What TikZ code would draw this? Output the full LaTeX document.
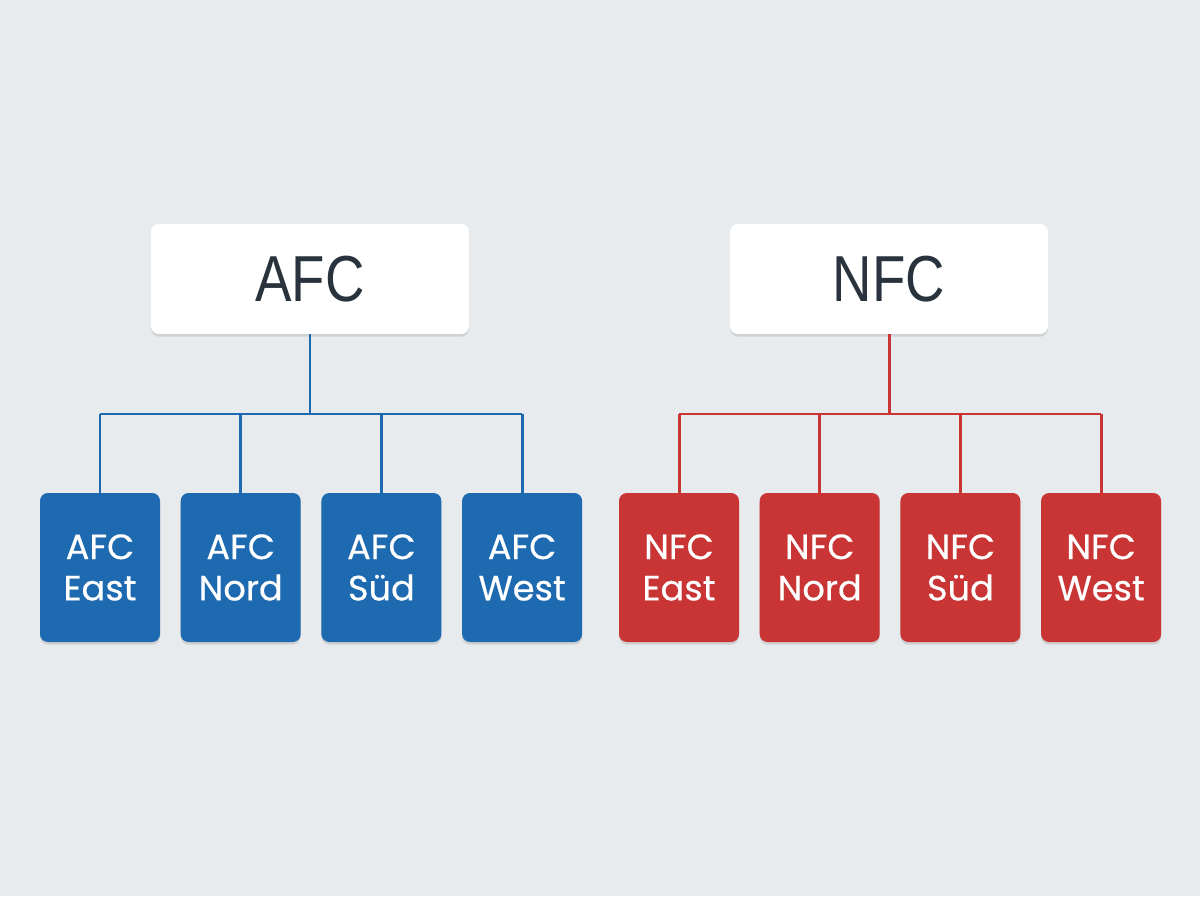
\documentclass[tikz,border=0pt]{standalone}
\usepackage{fontspec}
\setmainfont{Poppins}
\newfontfamily\headfont[FakeStretch=0.84]{Liberation Sans}
\newfontfamily\divfont[FakeBold=0.5]{Poppins}
\usetikzlibrary{positioning, shadows}
\definecolor{bgGrey}{HTML}{E8EBEE}
\definecolor{afcBlue}{HTML}{1E6AB0}
\definecolor{nfcRed}{HTML}{C93434}
\definecolor{inkDark}{HTML}{29333D}

\begin{document}
\begin{tikzpicture}[
    conf/.style={rounded corners=4.5pt, minimum width=6.36cm, minimum height=2.2cm,
      fill=white, text=inkDark, font=\headfont\fontsize{37}{40}\selectfont,
      drop shadow={shadow xshift=0pt, shadow yshift=-1.5pt, opacity=0.18, fill=black!60}},
    div/.style={rounded corners=4.5pt, minimum width=2.4cm, minimum height=2.98cm,
      text=white, align=center, font=\divfont\fontsize{20}{23.5}\selectfont,
      drop shadow={shadow xshift=0pt, shadow yshift=-1.5pt, opacity=0.2, fill=black!60}},
    afcdiv/.style={div, fill=afcBlue},
    nfcdiv/.style={div, fill=nfcRed},
    link/.style={line width=1.7pt}]
    \fill[bgGrey] (0,0) rectangle (24,17.92);
    % conferences
    \node[conf] (afc) at (6.2,12.34) {\raisebox{-2pt}{AFC}};
    \node[conf] (nfc) at (17.78,12.34) {\raisebox{-2pt}{NFC}};
    % divisions
    \node[afcdiv] (ae) at (2.0,6.57) {AFC\\East};
    \node[afcdiv, right=0.4cm of ae] (an) {AFC\\Nord};
    \node[afcdiv, right=0.4cm of an] (as) {AFC\\Süd};
    \node[afcdiv, right=0.4cm of as] (aw) {AFC\\West};
    \node[nfcdiv] (ne) at (13.58,6.57) {NFC\\East};
    \node[nfcdiv, right=0.4cm of ne] (nn) {NFC\\Nord};
    \node[nfcdiv, right=0.4cm of nn] (ns) {NFC\\Süd};
    \node[nfcdiv, right=0.4cm of ns] (nw) {NFC\\West};
    % tree lines
    \coordinate (abar) at (6.2,9.64);
    \coordinate (nbar) at (17.78,9.64);
    \draw[link, afcBlue] (afc.south) -- (abar);
    \draw[link, afcBlue] (ae |- abar) -- (aw |- abar);
    \foreach \d in {ae,an,as,aw} \draw[link, afcBlue] (\d |- abar) -- (\d.north);
    \draw[link, nfcRed] (nfc.south) -- (nbar);
    \draw[link, nfcRed] (ne |- nbar) -- (nw |- nbar);
    \foreach \d in {ne,nn,ns,nw} \draw[link, nfcRed] (\d |- nbar) -- (\d.north);
\end{tikzpicture}
\end{document}
